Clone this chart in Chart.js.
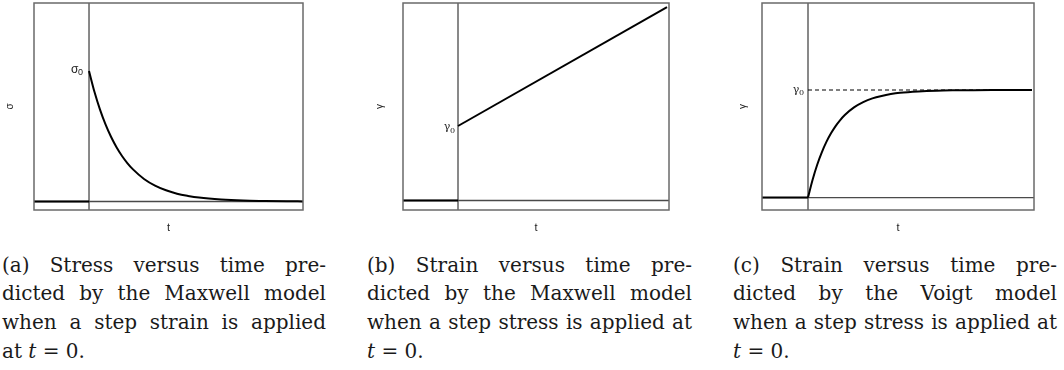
<!DOCTYPE html>
<html>
<head>
<meta charset="utf-8">
<script src="https://cdn.jsdelivr.net/npm/chart.js@4.4.1/dist/chart.umd.min.js"></script>
<style>
  html, body { margin: 0; padding: 0; background: #fff; }
  #page { position: relative; width: 1064px; height: 370px; overflow: hidden; background: #fff; }
  canvas.panel { position: absolute; top: 0; }
  .cap {
    position: absolute; top: 250.7px;
    font-family: "DejaVu Serif", serif;
    font-size: 20px; line-height: 28.7px; color: #1a1a1a;
  }
  .cap div { text-align: justify; text-align-last: justify; }
  .cap div.last { text-align: left; text-align-last: left; }
</style>
</head>
<body>
<div id="page">
  <canvas id="pa" class="panel" width="320" height="240" style="left:0px"></canvas>
  <canvas id="pb" class="panel" width="320" height="240" style="left:360px"></canvas>
  <canvas id="pc" class="panel" width="344" height="240" style="left:720px"></canvas>
  <div class="cap" id="capA" style="left:2px;width:324px"></div>
  <div class="cap" id="capB" style="left:367px;width:325px"></div>
  <div class="cap" id="capC" style="left:733px;width:324px"></div>
</div>
<script>
// ---- (a) Maxwell model, step strain: stress relaxation, σ in units of σ0
const relaxT     = [0, 0.1, 0.2, 0.3, 0.4, 0.5, 0.6, 0.7, 0.8, 1.0, 1.2, 1.4, 1.6, 1.8, 2.0, 2.4, 2.8, 3.2, 3.6, 3.89];
const relaxSigma = [1.000, 0.839, 0.704, 0.591, 0.496, 0.416, 0.349, 0.293, 0.246, 0.173, 0.122, 0.086, 0.060, 0.043, 0.030, 0.015, 0.007, 0.004, 0.002, 0.001];

// ---- (b) Maxwell model, step stress: instantaneous jump to γ0, then steady flow
const maxCreepT     = [0, 3.8];
const maxCreepGamma = [1.0, 2.597];

// ---- (c) Voigt model, step stress: retarded strain approaching γ0
const voigtT     = [0, 0.1, 0.2, 0.3, 0.4, 0.5, 0.6, 0.7, 0.8, 1.0, 1.2, 1.4, 1.6, 1.8, 2.0, 2.4, 2.8, 3.2, 3.6, 4.0, 4.4, 4.87];
const voigtGamma = [0, 0.166, 0.305, 0.420, 0.517, 0.597, 0.664, 0.720, 0.767, 0.838, 0.887, 0.922, 0.945, 0.962, 0.974, 0.987, 0.994, 0.997, 0.9986, 0.9993, 0.9997, 0.9999];

// value held before the step (t < 0)
const preStepT   = [-1, 0];
const preStepVal = [0, 0];

// axis extents for each panel: [tMin, tMax, yMin, yMax]
const rangeA = [-1, 3.89, -0.065, 1.521];
const rangeB = [-1, 3.836, -0.1275, 2.651];
const rangeC = [-1, 4.913, -0.116, 1.809];

// axis and level labels
const xTitle   = 't';
const yTitles  = ['σ', 'γ', 'γ'];
const levelSym = ['σ', 'γ', 'γ'];
const levelSub = '0';

// caption lines
const captionA = ['(a) Stress versus time pre-', 'dicted by the Maxwell model', 'when a step strain is applied', 'at <i>t</i> = 0.'];
const captionB = ['(b) Strain versus time pre-', 'dicted by the Maxwell model', 'when a step stress is applied at', '<i>t</i> = 0.'];
const captionC = ['(c) Strain versus time pre-', 'dicted by the Voigt model', 'when a step stress is applied at', '<i>t</i> = 0.'];

function fillCaption(id, lines) {
  const el = document.getElementById(id);
  lines.forEach((ln, i) => {
    const d = document.createElement('div');
    d.innerHTML = ln;
    if (i === lines.length - 1) d.className = 'last';
    el.appendChild(d);
  });
}
fillCaption('capA', captionA);
fillCaption('capB', captionB);
fillCaption('capC', captionC);

const pts = (xs, ys) => xs.map((x, i) => ({ x: x, y: ys[i] }));

// frame around the plotting region
const framePlugin = {
  id: 'frame',
  afterDatasetsDraw(chart) {
    const { ctx, chartArea: a } = chart;
    ctx.save();
    ctx.strokeStyle = '#6a6a6a';
    ctx.lineWidth = 1.5;
    ctx.strokeRect(a.left, a.top, a.right - a.left, a.bottom - a.top);
    ctx.restore();
  }
};

// level marker (σ0 / γ0) placed just left of the t = 0 line
const levelPlugin = {
  id: 'level',
  afterDatasetsDraw(chart, args, opts) {
    if (!opts || !opts.sym) return;
    const { ctx, scales } = chart;
    const x0 = scales.x.getPixelForValue(0) - opts.gap;
    const y0 = scales.y.getPixelForValue(opts.value) + opts.dy;
    ctx.save();
    ctx.fillStyle = '#222';
    ctx.textBaseline = 'middle';
    ctx.textAlign = 'right';
    ctx.font = opts.subFont;
    const subW = ctx.measureText(levelSub).width;
    ctx.fillText(levelSub, x0, y0 + opts.subDy);
    ctx.font = opts.symFont;
    ctx.fillText(opts.sym, x0 - subW + 0.3, y0);
    ctx.restore();
  }
};

function makePanel(id, range, yAxisW, padRight, yTitlePad, yTitle, datasets, level) {
  const [tMin, tMax, yMin, yMax] = range;
  const refs = [
    { data: pts([0, 0], [yMin, yMax]), borderColor: '#4a4a4a', borderWidth: 1.3 },
    { data: pts([tMin, tMax], [0, 0]), borderColor: '#4a4a4a', borderWidth: 1.3 }
  ];
  const all = datasets.concat(refs).map(d => Object.assign({
    pointRadius: 0, fill: false, tension: 0, cubicInterpolationMode: 'monotone'
  }, d));
  return new Chart(document.getElementById(id), {
    type: 'line',
    data: { datasets: all },
    options: {
      responsive: false, animation: false, devicePixelRatio: 1,
      layout: { padding: { top: 3, right: padRight, left: 0, bottom: 0 } },
      plugins: { legend: { display: false }, tooltip: { enabled: false }, level: level },
      scales: {
        x: {
          type: 'linear', min: tMin, max: tMax,
          grid: { display: false }, border: { display: false },
          ticks: { display: false },
          title: { display: true, text: xTitle, color: '#222',
                   font: { family: 'Liberation Sans, Arial, sans-serif', size: 11 },
                   padding: { top: 0, bottom: 5.4 } },
          afterFit(s) { s.height = 30; }
        },
        y: {
          type: 'linear', min: yMin, max: yMax,
          grid: { display: false }, border: { display: false },
          ticks: { display: false },
          title: { display: true, text: yTitle, color: '#222',
                   font: { family: 'Liberation Sans, Arial, sans-serif', size: 10 },
                   padding: { top: yTitlePad, bottom: 0 } },
          afterFit(s) { s.width = yAxisW; }
        }
      }
    },
    plugins: [framePlugin, levelPlugin]
  });
}

const curve = { borderColor: '#000', borderWidth: 2 };

makePanel('pa', rangeA, 34, 17, 4, yTitles[0], [
  Object.assign({ data: pts(relaxT, relaxSigma) }, curve),
  Object.assign({ data: pts(preStepT, preStepVal) }, curve)
], { sym: levelSym[0], value: 1, gap: 6, dy: -1, subDy: 3,
     symFont: '12px "Liberation Sans", Arial, sans-serif', subFont: '9px "Liberation Sans", Arial, sans-serif' });

makePanel('pb', rangeB, 43, 11, 14, yTitles[1], [
  Object.assign({ data: pts(maxCreepT, maxCreepGamma) }, curve),
  Object.assign({ data: pts(preStepT, preStepVal) }, curve)
], { sym: levelSym[1], value: 1, gap: 3, dy: 1, subDy: 4,
     symFont: '11px "DejaVu Serif", serif', subFont: '8px "DejaVu Serif", serif' });

makePanel('pc', rangeC, 42, 30, 17, yTitles[2], [
  Object.assign({ data: pts(voigtT, voigtGamma) }, curve),
  Object.assign({ data: pts(preStepT, preStepVal) }, curve),
  { data: pts([0, 4.87], [1, 1]), borderColor: '#000', borderWidth: 1.2, borderDash: [4, 3] }
], { sym: levelSym[2], value: 1, gap: 4, dy: 0, subDy: 3,
     symFont: '11px "DejaVu Serif", serif', subFont: '8px "DejaVu Serif", serif' });
</script>
</body>
</html>
